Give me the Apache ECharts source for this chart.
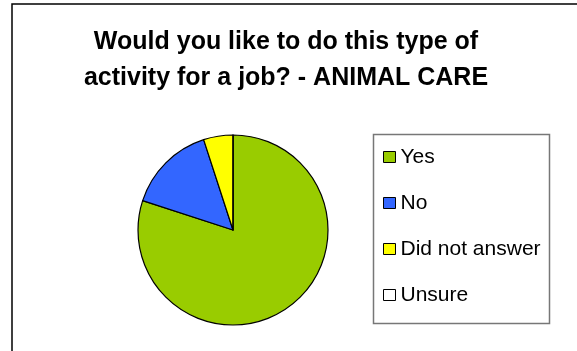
<!DOCTYPE html>
<html>
<head>
<meta charset="utf-8">
<script src="https://cdn.jsdelivr.net/npm/echarts@6/dist/echarts.min.js"></script>
<style>
  html, body { margin: 0; padding: 0; background: #fff; }
  #chart { width: 577px; height: 351px; }
</style>
</head>
<body>
<div id="chart"></div>
<script>
// Survey responses (percent of respondents)
const categories = ['Yes', 'No', 'Did not answer', 'Unsure'];
const values = [80, 15, 5, 0];
const colors = ['#99CC00', '#3366FF', '#FFFF00', '#FFFFFF'];
const titleText = 'Would you like to do this type of\nactivity for a job? - ANIMAL CARE';

const chart = echarts.init(document.getElementById('chart'), null, { renderer: 'canvas' });

chart.setOption({
  animation: false,
  backgroundColor: '#ffffff',
  title: {
    text: titleText,
    left: 281,
    top: 19,
    textAlign: 'center',
    textStyle: {
      fontFamily: 'Liberation Sans, Arial, sans-serif',
      fontWeight: 'bold',
      fontSize: 25,
      lineHeight: 36,
      color: '#000'
    }
  },
  graphic: [
    {
      type: 'rect',
      silent: true,
      shape: { x: 12, y: 4, width: 600, height: 400 },
      style: { fill: 'none', stroke: '#000', lineWidth: 1.5 }
    },
    {
      type: 'rect',
      silent: true,
      shape: { x: 373.5, y: 134.5, width: 176, height: 189 },
      style: { fill: 'none', stroke: '#777', lineWidth: 1.5 }
    }
  ],
  legend: {
    orient: 'vertical',
    left: 378,
    top: 141,
    itemWidth: 12,
    itemHeight: 11,
    itemGap: 24,
    itemTextGap: 7,
    icon: 'rect',
    data: categories,
    textStyle: {
      fontFamily: 'Liberation Sans, Arial, sans-serif',
      fontSize: 21,
      lineHeight: 22,
      color: '#000'
    },
    itemStyle: { borderColor: '#000', borderWidth: 1 }
  },
  series: [{
    type: 'pie',
    center: [233, 230],
    radius: 95,
    startAngle: 90,
    clockwise: true,
    label: { show: false },
    labelLine: { show: false },
    emphasis: { disabled: true },
    itemStyle: { borderColor: '#000', borderWidth: 1.2 },
    data: categories.map((c, i) => ({
      name: c,
      value: values[i],
      itemStyle: { color: colors[i] }
    }))
  }]
});
</script>
</body>
</html>
